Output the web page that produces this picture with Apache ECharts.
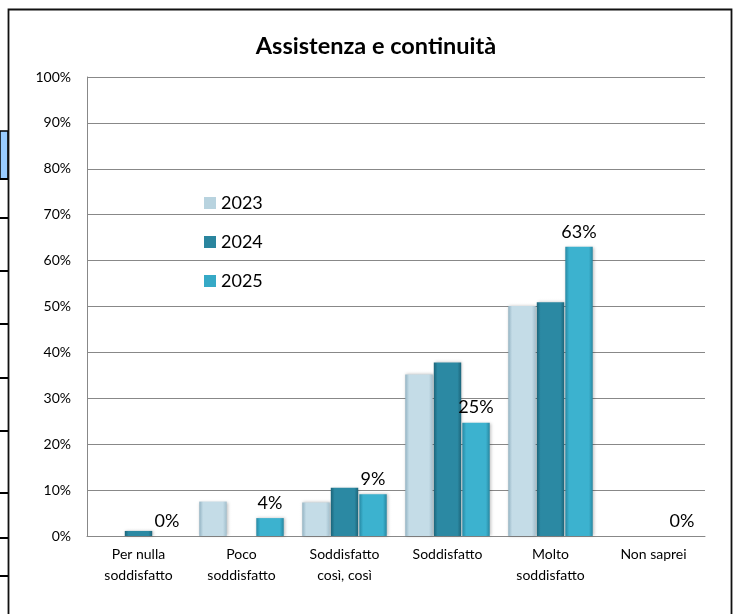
<!DOCTYPE html>
<html>
<head>
<meta charset="utf-8">
<script src="https://cdn.jsdelivr.net/npm/echarts@6/dist/echarts.min.js"></script>
<style>
html,body{margin:0;padding:0;background:#fff;}
#c{width:733px;height:614px;}
</style>
</head>
<body>
<div id="c"></div>
<script>
const categories = ['Per nulla\nsoddisfatto', 'Poco\nsoddisfatto', 'Soddisfatto\ncosì, così', 'Soddisfatto', 'Molto\nsoddisfatto', 'Non saprei'];
const seriesNames = ['2023', '2024', '2025'];
const values2023 = [0, 7.5, 7.3, 35.2, 50.1, 0];
const values2024 = [1.1, 0, 10.5, 37.8, 50.9, 0];
const values2025 = [0, 3.9, 9.1, 24.7, 63.0, 0];
const yTicks = [0, 10, 20, 30, 40, 50, 60, 70, 80, 90, 100];
const titleText = 'Assistenza e continuità';

const FONT = 'Lato, "Open Sans", sans-serif';

function grad(left, mid, right) {
  return new echarts.graphic.LinearGradient(0, 0, 1, 0, [
    {offset: 0, color: left},
    {offset: 0.14, color: mid},
    {offset: 0.86, color: mid},
    {offset: 1, color: right}
  ]);
}

const styles = [
  {color: grad('#93b3c3', '#c4dce7', '#a2bfcd'), legend: '#b8d3df'},
  {color: grad('#1b6479', '#2b89a3', '#1c657a'), legend: '#2a859e'},
  {color: grad('#2689a4', '#3cb2cf', '#2787a1'), legend: '#36a9c6'}
];
const seriesValues = [values2023, values2024, values2025];

const chart = echarts.init(document.getElementById('c'), null, {renderer: 'canvas'});

const series = seriesNames.map((name, i) => ({
  name: name,
  type: 'bar',
  data: seriesValues[i],
  barGap: '4%',
  barCategoryGap: '18%',
  itemStyle: {color: styles[i].color, shadowColor: 'rgba(0,0,0,0.25)', shadowBlur: 3, shadowOffsetX: 1},
  label: i === 2 ? {
    show: true,
    position: 'top',
    distance: 6,
    fontFamily: FONT,
    fontSize: 18,
    color: '#000',
    formatter: p => Math.round(p.value) + '%'
  } : {show: false}
}));

// decorative frame and table fragments on the left
const tableLines = [179, 218, 271, 324, 378, 431, 493, 538, 576];
const graphics = [
  {type: 'rect', shape: {x: 0, y: 131, width: 8, height: 48}, style: {fill: '#99ccff', stroke: '#000', lineWidth: 1.5}, silent: true},
  {type: 'rect', shape: {x: 8.5, y: 9.5, width: 723, height: 640}, style: {fill: 'none', stroke: '#111', lineWidth: 1.8}, silent: true}
].concat(tableLines.map(y => ({
  type: 'line', shape: {x1: 0, y1: y, x2: 8, y2: y}, style: {stroke: '#000', lineWidth: 2}, silent: true
})));

chart.setOption({
  backgroundColor: '#fff',
  animation: false,
  title: {
    text: titleText,
    left: 371,
    textAlign: 'center',
    top: 29,
    textStyle: {fontFamily: FONT, fontSize: 23.5, fontWeight: 'bold', color: '#000'}
  },
  legend: {
    data: seriesNames.map((n, i) => ({name: n, itemStyle: {color: styles[i].legend}})),
    orient: 'vertical',
    left: 199,
    top: 189,
    itemWidth: 12,
    itemHeight: 12,
    itemGap: 21,
    icon: 'rect',
    textStyle: {fontFamily: FONT, fontSize: 18, color: '#000', padding: [0, 0, 0, 0]}
  },
  grid: {left: 87, right: 28, top: 77, bottom: 78, containLabel: false},
  xAxis: {
    type: 'category',
    data: categories,
    axisLine: {show: true, lineStyle: {color: '#888', width: 1}},
    axisTick: {show: false},
    axisLabel: {fontFamily: FONT, fontSize: 14, color: '#000', lineHeight: 21, margin: 8, interval: 0}
  },
  yAxis: {
    type: 'value',
    min: yTicks[0],
    max: yTicks[yTicks.length - 1],
    interval: 10,
    axisLine: {show: true, lineStyle: {color: '#888', width: 1}},
    axisTick: {show: false},
    splitLine: {show: true, lineStyle: {color: '#888', width: 1}},
    axisLabel: {fontFamily: FONT, fontSize: 14, color: '#000', margin: 16, formatter: v => v + '%'}
  },
  graphic: graphics,
  series: series
});
</script>
</body>
</html>
